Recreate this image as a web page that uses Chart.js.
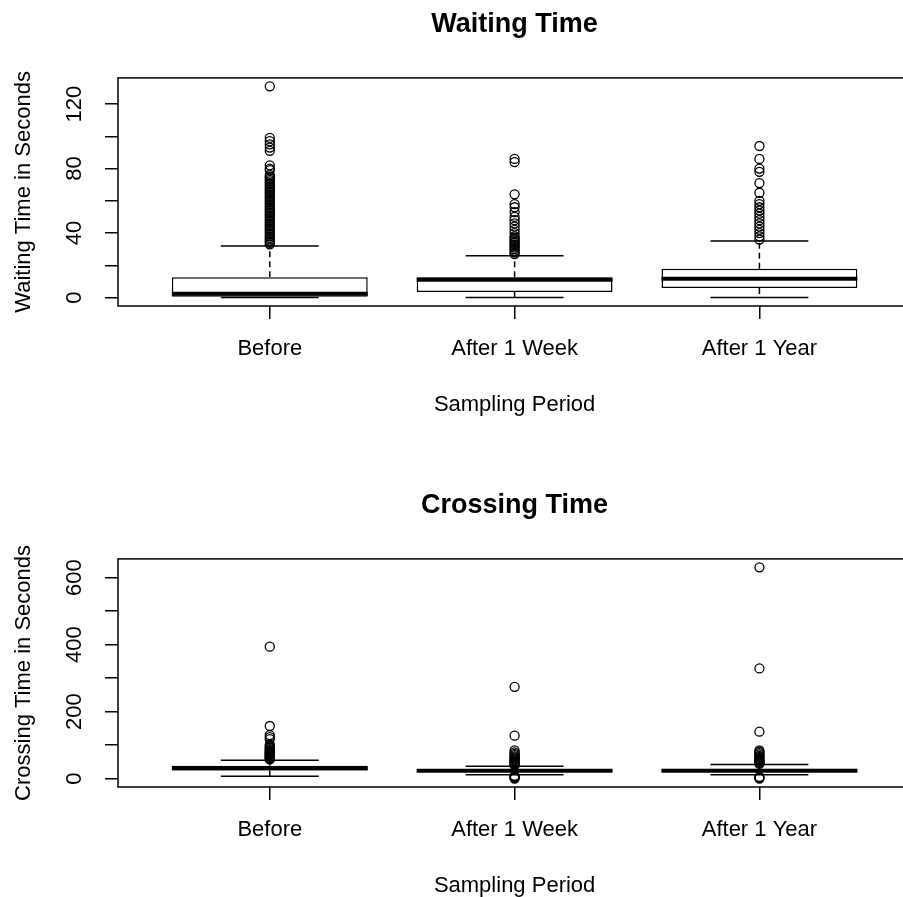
<!DOCTYPE html>
<html>
<head>
<meta charset="utf-8">
<script src="https://cdn.jsdelivr.net/npm/chart.js@4.4.1/dist/chart.umd.min.js"></script>
<style>
  html, body { margin: 0; padding: 0; background: #fff; overflow: hidden; }
  #wrap { position: relative; width: 903px; height: 897px; overflow: hidden; }
  #wrap canvas { position: absolute; left: 0; }
</style>
</head>
<body>
<div id="wrap">
  <canvas id="waitChart" width="917" height="481" style="top:-33px"></canvas>
  <canvas id="crossChart" width="917" height="481" style="top:448px"></canvas>
</div>
<script>
const categories = ['Before', 'After 1 Week', 'After 1 Year'];

// Waiting time (seconds) - box stats per sampling period
const waitLow    = [0, 0, 0];
const waitQ1     = [0, 3.5, 6];
const waitMedian = [2.3, 11, 11.6];
const waitQ3     = [12.6, 12.6, 17.8];
const waitHigh   = [32, 26, 35];
const waitOutBefore = [33, 34, 35, 36, 37, 38, 39, 40, 41, 42, 43, 44, 45, 46, 47, 48, 49, 50, 51, 52, 53, 54, 55, 56, 57, 58, 59, 60, 61, 62, 63, 64, 65, 66, 67, 68, 69, 70, 71, 72, 73, 74, 75, 76, 79, 80, 82, 91, 93, 95, 97, 99, 131];
const waitOutWeek   = [27, 28, 29, 30, 31, 32, 33, 34, 35, 36, 37, 38, 40, 42, 44, 46, 48, 50, 53, 56, 58, 64, 84, 86];
const waitOutYear   = [36, 38, 40, 42, 44, 46, 48, 50, 52, 54, 56, 58, 60, 65, 71, 78, 80, 86, 94];
const waitTicks      = [0, 20, 40, 60, 80, 100, 120];
const waitTickLabels = ['0', '', '40', '', '80', '', '120'];

// Crossing time (seconds)
const crossLow    = [7, 11, 11];
const crossQ1     = [24, 20, 20];
const crossMedian = [31, 23, 23];
const crossQ3     = [38, 27, 29];
const crossHigh   = [55, 37, 42];
const crossOutBefore = [57, 59, 61, 63, 65, 67, 69, 71, 73, 75, 77, 79, 81, 83, 85, 88, 91, 94, 97, 101, 118, 124, 130, 157, 394];
const crossOutWeek   = [0, 2, 4, 6, 8, 39, 42, 45, 48, 51, 54, 57, 60, 63, 66, 70, 74, 78, 84, 128, 274];
const crossOutYear   = [0, 3, 5, 44, 47, 50, 53, 56, 59, 62, 65, 68, 72, 76, 80, 84, 140, 329, 631];
const crossTicks      = [0, 100, 200, 300, 400, 500, 600];
const crossTickLabels = ['0', '', '200', '', '400', '', '600'];

Chart.defaults.font.family = '"Liberation Sans", Arial, sans-serif';
Chart.defaults.color = '#000';

// whiskers, staples, medians and the plot frame
const boxLines = {
  id: 'boxLines',
  afterDatasetsDraw(chart, args, o) {
    const {ctx, chartArea} = chart;
    const x = chart.scales.x, y = chart.scales.y;
    const half = x.getPixelForValue(1.4) - x.getPixelForValue(1);
    ctx.save();
    ctx.beginPath();
    ctx.rect(chartArea.left, chartArea.top, chartArea.right - chartArea.left, chartArea.bottom - chartArea.top);
    ctx.clip();
    ctx.strokeStyle = '#000';
    for (let i = 0; i < categories.length; i++) {
      const cx = x.getPixelForValue(i + 1);
      ctx.lineWidth = 1.5;
      ctx.setLineDash([6, 4]);
      ctx.beginPath();
      ctx.moveTo(cx, y.getPixelForValue(o.q3[i]));
      ctx.lineTo(cx, y.getPixelForValue(o.high[i]));
      ctx.moveTo(cx, y.getPixelForValue(o.q1[i]));
      ctx.lineTo(cx, y.getPixelForValue(o.low[i]));
      ctx.stroke();
      ctx.setLineDash([]);
      ctx.beginPath();
      [o.high[i], o.low[i]].forEach(v => {
        ctx.moveTo(cx - half / 2, y.getPixelForValue(v));
        ctx.lineTo(cx + half / 2, y.getPixelForValue(v));
      });
      ctx.stroke();
      ctx.lineWidth = 4;
      ctx.beginPath();
      ctx.moveTo(cx - half, y.getPixelForValue(o.median[i]));
      ctx.lineTo(cx + half, y.getPixelForValue(o.median[i]));
      ctx.stroke();
    }
    ctx.restore();
    ctx.save();
    ctx.lineWidth = 1.5;
    ctx.strokeStyle = '#000';
    ctx.strokeRect(chartArea.left, chartArea.top, chartArea.right - chartArea.left, chartArea.bottom - chartArea.top);
    ctx.restore();
  }
};

function outlierSet(values, pos) {
  return {
    type: 'scatter',
    data: values.map(v => ({x: pos, y: v})),
    pointStyle: 'circle',
    pointRadius: 4.5,
    pointBorderWidth: 1.3,
    pointBorderColor: '#000',
    pointBackgroundColor: 'rgba(0,0,0,0)'
  };
}

function makeBoxplot(id, title, yTitle, s, outliers, ticks, tickLabels) {
  const all = s.low.concat(s.high, ...outliers);
  const lo = Math.min(...all), hi = Math.max(...all);
  const pad = (hi - lo) * 0.04;
  const axisFont = {size: 22};
  const grid = {drawOnChartArea: false, drawTicks: true, tickLength: 13, color: '#000', lineWidth: 1.5, offset: false};

  new Chart(document.getElementById(id), {
    type: 'bar',
    data: {
      datasets: [
        {
          type: 'bar',
          data: categories.map((c, i) => ({x: i + 1, y: [s.q1[i], s.q3[i]]})),
          backgroundColor: '#fff',
          borderColor: '#000',
          borderWidth: 1.5,
          borderSkipped: false,
          barPercentage: 0.8,
          categoryPercentage: 1
        },
        ...outliers.map((v, i) => outlierSet(v, i + 1))
      ]
    },
    options: {
      responsive: false,
      animation: false,
      layout: {padding: 0},
      plugins: {
        legend: {display: false},
        tooltip: {enabled: false},
        title: {
          display: true,
          text: title,
          fullSize: false,
          color: '#000',
          font: {size: 27, weight: 'bold'},
          padding: {top: 41, bottom: 37.5}
        },
        boxLines: s
      },
      scales: {
        x: {
          type: 'linear',
          min: 0.38,
          max: 3.62,
          bounds: 'data',
          offset: false,
          afterBuildTicks: sc => { sc.ticks = [1, 2, 3].map(v => ({value: v})); },
          afterFit: sc => { sc.height = 142; },
          ticks: {
            autoSkip: false,
            maxRotation: 0,
            padding: 17,
            font: axisFont,
            color: '#000',
            callback: v => categories[v - 1]
          },
          grid: grid,
          border: {display: false},
          title: {display: true, text: 'Sampling Period', font: axisFont, color: '#000', padding: {top: 0, bottom: 30}}
        },
        y: {
          type: 'linear',
          min: lo - pad,
          max: hi + pad,
          bounds: 'data',
          afterBuildTicks: sc => { sc.ticks = ticks.map(v => ({value: v})); },
          afterFit: sc => { sc.width = 118; },
          ticks: {
            autoSkip: false,
            minRotation: 90,
            maxRotation: 90,
            crossAlign: 'center',
            padding: 11.6,
            font: axisFont,
            color: '#000',
            callback: v => tickLabels[ticks.indexOf(v)]
          },
          grid: grid,
          border: {display: false},
          title: {display: true, text: yTitle, font: axisFont, color: '#000', padding: {top: 11, bottom: 0}}
        }
      }
    },
    plugins: [boxLines]
  });
}

makeBoxplot('waitChart', 'Waiting Time', 'Waiting Time in Seconds',
  {low: waitLow, q1: waitQ1, median: waitMedian, q3: waitQ3, high: waitHigh},
  [waitOutBefore, waitOutWeek, waitOutYear], waitTicks, waitTickLabels);

makeBoxplot('crossChart', 'Crossing Time', 'Crossing Time in Seconds',
  {low: crossLow, q1: crossQ1, median: crossMedian, q3: crossQ3, high: crossHigh},
  [crossOutBefore, crossOutWeek, crossOutYear], crossTicks, crossTickLabels);
</script>
</body>
</html>
